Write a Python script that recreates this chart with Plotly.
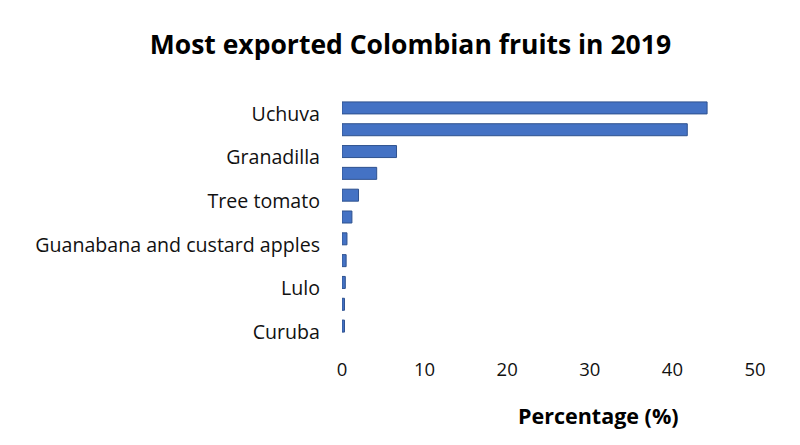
import plotly.graph_objects as go

categories = ["Uchuva", "Gulupa", "Granadilla", "Pitahaya", "Tree tomato",
              "Passion fruit", "Guanabana and custard apples", "Mango",
              "Lulo", "Feijoa", "Curuba"]
values = [44.2, 41.8, 6.6, 4.2, 2.0, 1.2, 0.6, 0.5, 0.4, 0.3, 0.3]
shown_labels = ["Uchuva", "Granadilla", "Tree tomato",
                "Guanabana and custard apples", "Lulo", "Curuba"]
x_ticks = [0, 10, 20, 30, 40, 50]

FONT = "Open Sans"
TXT = "#111111"

fig = go.Figure(go.Bar(
    x=values, y=categories, orientation="h",
    marker=dict(color="#4472C4", line=dict(color="#2F528F", width=1)),
    width=0.55,
))

fig.update_layout(
    width=800, height=445,
    margin=dict(l=342, r=45, t=97, b=108),
    paper_bgcolor="white", plot_bgcolor="white",
    showlegend=False,
    font=dict(family=FONT, size=19, color=TXT),
    title=dict(text="<b>Most exported Colombian fruits in 2019</b>",
               x=0.513, xref="container", xanchor="center",
               y=0.9, yref="container", yanchor="middle",
               font=dict(family=FONT, size=26.5, color="black")),
    xaxis=dict(range=[0, 50], tickvals=x_ticks, showgrid=False,
               zeroline=False, showline=False, ticks="",
               ticklabelstandoff=19,
               tickfont=dict(family=FONT, size=18.5, color=TXT)),
    yaxis=dict(categoryorder="array", categoryarray=categories,
               autorange="reversed",
               tickvals=shown_labels, ticktext=shown_labels,
               showgrid=False, zeroline=False, showline=False, ticks="",
               ticklabelstandoff=21, ticklabelshift=-6,
               tickfont=dict(family=FONT, size=19.6, color=TXT)),
    annotations=[dict(text="<b>Percentage (%)</b>",
                      x=(598 - 342) / (800 - 342 - 45),
                      y=(445 - 108 - 415) / (445 - 97 - 108),
                      xref="paper", yref="paper", showarrow=False,
                      yanchor="middle",
                      font=dict(family=FONT, size=21.5, color="black"))],
)

fig.write_html("out.html")
